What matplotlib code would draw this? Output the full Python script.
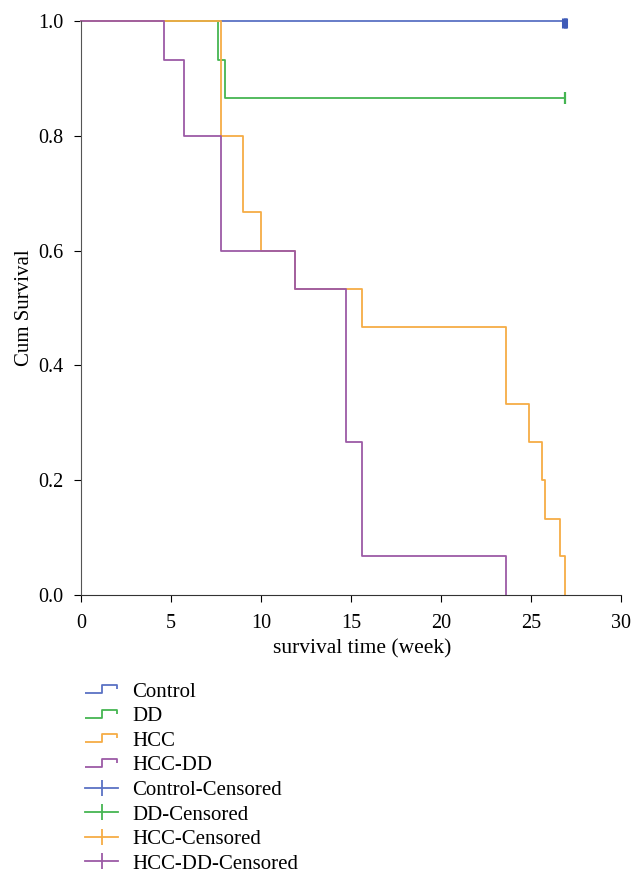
import numpy as np
import matplotlib.pyplot as plt
from matplotlib.lines import Line2D
from matplotlib.path import Path

plt.rcParams['font.family'] = ['Liberation Serif', 'DejaVu Serif']

# survival steps (time in weeks, cumulative survival)
ctrl_t = [0, 26.9]
ctrl_s = [1.0, 1.0]
ctrl_cens_t = [26.8, 26.9, 26.95]
ctrl_cens_s = [0.997, 0.997, 0.997]

dd_t = [0, 7.6, 8.0, 26.9]
dd_s = [1.0, 0.933, 0.867, 0.867]
dd_cens_t = [26.9]
dd_cens_s = [0.867]

hcc_t = [0, 7.8, 9.0, 10.0, 11.9, 15.6, 23.6, 24.9, 25.6, 25.8, 26.6, 26.9]
hcc_s = [1.0, 0.8, 0.667, 0.6, 0.533, 0.467, 0.333, 0.267, 0.2, 0.133, 0.067, 0.0]

hccdd_t = [0, 4.6, 5.7, 7.8, 11.9, 14.7, 15.6, 23.6]
hccdd_s = [1.0, 0.933, 0.8, 0.6, 0.533, 0.267, 0.067, 0.0]

labels = ['Control', 'DD', 'HCC', 'HCC-DD',
          'Control-Censored', 'DD-Censored', 'HCC-Censored', 'HCC-DD-Censored']
colors = ['#5a72c4', '#45b552', '#f6ac45', '#9c5aa6']

fig = plt.figure(figsize=(6.44, 8.84), dpi=100)
ax = fig.add_axes([0.126, 0.327, 0.838, 0.649])

for t, s, c in zip([ctrl_t, dd_t, hcc_t, hccdd_t],
                   [ctrl_s, dd_s, hcc_s, hccdd_s], colors):
    ax.step(t, s, where='post', color=c, lw=1.3, clip_on=False)

ax.plot(ctrl_cens_t, ctrl_cens_s, ls='none', marker='|', ms=7, mew=2.2,
        color='#3f5bb8', clip_on=False)
ax.plot(dd_cens_t, dd_cens_s, ls='none', marker='|', ms=8, mew=1.6,
        color=colors[1], clip_on=False)

ax.set_xlim(0, 30)
ax.set_ylim(0, 1.0)
ax.set_xticks([0, 5, 10, 15, 20, 25, 30])
ax.set_yticks([0.0, 0.2, 0.4, 0.6, 0.8, 1.0])
ax.set_yticklabels(['0.0', '0.2', '0.4', '0.6', '0.8', '1.0'])
ax.spines['top'].set_visible(False)
ax.spines['right'].set_visible(False)
ax.spines['left'].set_color('#555555')
ax.spines['bottom'].set_color('#333333')
ax.tick_params(direction='out', length=5, labelsize=14.5)
ax.tick_params(axis='x', pad=9)
ax.tick_params(axis='y', pad=7.5)
ax.set_xlabel('survival time (week)', fontsize=15.5, labelpad=4)
ax.xaxis.label.set_x(0.52)
ax.set_ylabel('Cum Survival', fontsize=15, labelpad=3)

# legend
step_icon = Path([(-1.0, -0.25), (0.0, -0.25), (0.0, 0.25), (0.9, 0.25), (0.9, 0.02)])
handles = []
for c in colors:
    handles.append(Line2D([], [], ls='none', marker=step_icon, ms=24,
                          mfc='none', mec=c, mew=1.3))
for c in colors:
    handles.append(Line2D([], [], color=c, lw=1.3, marker='|', ms=12, mew=1.3))
fig.legend(handles, labels, loc='upper left', bbox_to_anchor=(0.11, 0.245),
           frameon=False, fontsize=15, handlelength=1.55, handletextpad=0.7,
           labelspacing=0.24, borderpad=0.2)

fig.savefig('out.png', dpi=100)
